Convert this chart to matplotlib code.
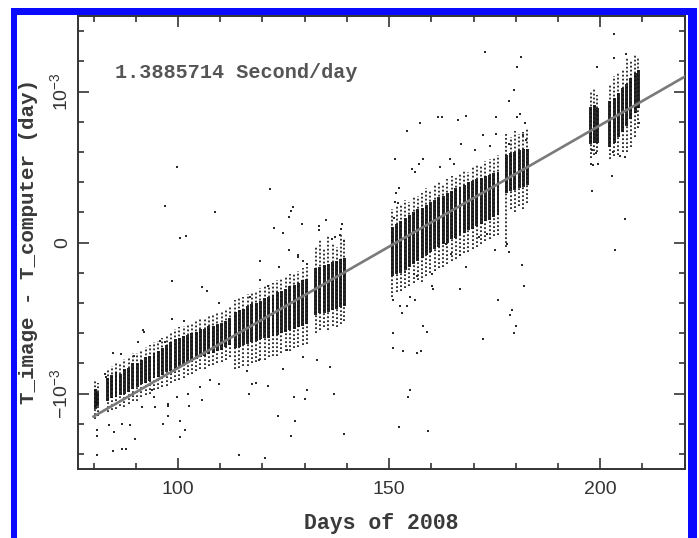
import matplotlib
matplotlib.use('Agg')
import matplotlib.pyplot as plt
import numpy as np
from matplotlib.patches import Rectangle
from matplotlib.ticker import MultipleLocator, FixedLocator


UNIT = 1e-3  # residuals below are written in units of 10^-3 day

# nightly observation streaks: day, dense core (lo, hi), sparse tail (lo, hi)
NIGHT_DAY = [
    80.4, 81.0, 83.3, 84.3, 85.3, 86.3, 87.3, 88.3, 89.3, 90.3, 91.3, 92.3,
    93.3, 94.3, 95.3, 96.3, 97.3, 98.3, 99.3, 100.3, 101.3, 102.3, 103.3,
    104.3, 105.3, 106.3, 107.3, 108.3, 109.3, 110.3, 111.3, 112.3,
    113.5, 114.5, 115.5, 116.5, 117.5, 118.5, 119.5, 120.5, 121.5, 122.5,
    123.5, 124.5, 125.5, 126.5, 127.5, 128.5, 129.5, 130.5,
    132.6, 133.6, 134.6, 135.6, 136.6, 137.6, 138.6, 139.4,
    150.8, 151.8, 152.8, 153.8, 154.8, 155.8, 156.8, 157.8, 158.8, 159.8,
    160.8, 161.8, 162.8, 163.8, 164.8, 165.8, 166.8, 167.8, 168.8, 169.8,
    170.8, 171.8, 172.8, 173.8, 174.8, 175.8,
    177.8, 178.8, 179.8, 180.8, 181.8, 182.7,
    197.8, 198.6, 199.3,
    202.3, 203.3, 204.3, 205.3, 206.3, 207.3, 208.3, 209.0,
]
CORE_LO = [
    -1.10, -1.08, -1.05, -1.03, -1.02, -1.01, -1.00, -0.99, -0.97, -0.96,
    -0.94, -0.93, -0.92, -0.90, -0.89, -0.88, -0.86, -0.85, -0.84, -0.83,
    -0.81, -0.80, -0.78, -0.77, -0.76, -0.75, -0.74, -0.73, -0.72, -0.71,
    -0.69, -0.68,
    -0.70, -0.69, -0.68, -0.67, -0.66, -0.65, -0.64, -0.63, -0.63, -0.62,
    -0.61, -0.60, -0.59, -0.58, -0.57, -0.56, -0.55, -0.54,
    -0.48, -0.47, -0.47, -0.46, -0.45, -0.44, -0.43, -0.42,
    -0.22, -0.21, -0.20, -0.18, -0.16, -0.14, -0.12, -0.10, -0.08, -0.06,
    -0.04, -0.03, -0.01, 0.00, 0.02, 0.03, 0.05, 0.06, 0.08, 0.09,
    0.11, 0.12, 0.14, 0.15, 0.17, 0.18,
    0.33, 0.34, 0.35, 0.36, 0.37, 0.38,
    0.65, 0.66, 0.66,
    0.63, 0.66, 0.70, 0.73, 0.77, 0.82, 0.86, 0.89,
]
CORE_HI = [
    -0.97, -0.99, -0.90, -0.88, -0.86, -0.87, -0.84, -0.83, -0.80, -0.80,
    -0.78, -0.76, -0.75, -0.73, -0.72, -0.70, -0.68, -0.66, -0.64, -0.63,
    -0.62, -0.61, -0.60, -0.59, -0.57, -0.57, -0.55, -0.55, -0.54, -0.53,
    -0.52, -0.50,
    -0.46, -0.45, -0.44, -0.42, -0.41, -0.40, -0.39, -0.37, -0.36, -0.35,
    -0.33, -0.32, -0.31, -0.29, -0.28, -0.27, -0.25, -0.24,
    -0.17, -0.16, -0.15, -0.14, -0.13, -0.12, -0.11, -0.10,
    0.10, 0.12, 0.14, 0.16, 0.18, 0.20, 0.22, 0.23, 0.25, 0.27,
    0.28, 0.30, 0.31, 0.33, 0.34, 0.36, 0.37, 0.38, 0.40, 0.41,
    0.42, 0.43, 0.44, 0.45, 0.46, 0.47,
    0.58, 0.59, 0.60, 0.61, 0.62, 0.62,
    0.90, 0.91, 0.89,
    0.94, 0.96, 0.99, 1.02, 1.05, 1.09, 1.12, 1.14,
]
TAIL_LO = [
    -1.17, -1.15, -1.12, -1.11, -1.10, -1.08, -1.09, -1.07, -1.05, -1.05,
    -1.02, -1.01, -1.00, -0.98, -0.97, -0.96, -0.95, -0.93, -0.92, -0.91,
    -0.90, -0.88, -0.87, -0.85, -0.84, -0.84, -0.82, -0.81, -0.80, -0.79,
    -0.78, -0.76,
    -0.84, -0.83, -0.82, -0.82, -0.80, -0.79, -0.78, -0.78, -0.76, -0.75,
    -0.75, -0.73, -0.72, -0.72, -0.70, -0.69, -0.68, -0.67,
    -0.60, -0.58, -0.56, -0.58, -0.55, -0.56, -0.54, -0.52,
    -0.36, -0.33, -0.32, -0.30, -0.29, -0.27, -0.25, -0.26, -0.22, -0.20,
    -0.19, -0.17, -0.16, -0.14, -0.12, -0.11, -0.09, -0.07, -0.06, -0.04,
    -0.03, -0.01, 0.01, 0.02, 0.04, 0.05,
    -0.03, 0.22, 0.20, 0.24, 0.22, 0.26,
    0.56, 0.58, 0.60,
    0.55, 0.57, 0.58, 0.60, 0.60, 0.63, 0.70, 0.76,
]
TAIL_HI = [
    -0.92, -0.93, -0.84, -0.82, -0.80, -0.80, -0.77, -0.76, -0.73, -0.73,
    -0.71, -0.69, -0.68, -0.66, -0.65, -0.63, -0.61, -0.59, -0.57, -0.56,
    -0.55, -0.54, -0.53, -0.52, -0.50, -0.50, -0.48, -0.48, -0.47, -0.46,
    -0.45, -0.43,
    -0.38, -0.37, -0.36, -0.34, -0.33, -0.32, -0.30, -0.29, -0.28, -0.27,
    -0.25, -0.24, -0.23, -0.21, -0.20, -0.19, -0.17, -0.16,
    -0.02, 0.02, -0.04, 0.05, 0.00, -0.03, 0.06, 0.02,
    0.22, 0.24, 0.25, 0.28, 0.27, 0.30, 0.31, 0.33, 0.36, 0.35,
    0.38, 0.40, 0.39, 0.42, 0.44, 0.43, 0.46, 0.48, 0.47, 0.50,
    0.52, 0.51, 0.54, 0.55, 0.56, 0.58,
    0.72, 0.70, 0.74, 0.72, 0.73, 0.75,
    1.00, 1.02, 0.98,
    1.05, 1.10, 1.12, 1.15, 1.22, 1.20, 1.25, 1.22,
]

# isolated points away from the nightly streaks
OUT_DAY = [
    99.8, 96.9, 100.5, 101.9, 108.8, 121.8, 122.8, 124.8, 126.3, 126.7,
    127.3, 126.4, 129.3, 128.4, 135.1, 133.3, 133.3, 138.8, 138.6, 138.3,
    137.3, 136.4, 139.3, 119.4, 123.9, 128.5, 129.5, 130.5, 119.4, 121.4,
    117.1, 117.5, 98.6, 105.6, 106.8, 109.6, 91.8, 90.6, 98.6, 101.5,
    95.7, 96.9, 86.5, 84.7, 89.6, 82.7, 82.9, 92.0,
    151.4, 151.6, 152.4, 151.4, 152.2, 151.2, 154.3, 157.3, 161.5, 162.5,
    166.4, 168.2, 175.4, 172.3, 175.4, 158.1, 157.1, 167.1, 170.4, 164.5,
    165.3, 162.1, 155.4, 156.2, 174.0,
    172.7, 181.3, 180.2, 179.5, 178.3, 178.3, 180.2, 181.0, 182.2, 181.8,
    182.4,
    203.2, 202.8, 198.0, 205.9, 203.6, 199.2, 203.3, 206.2, 199.1, 199.4,
    197.8, 209.1, 198.0, 198.2, 203.1, 204.6, 205.9,
    80.7, 80.7, 80.7, 83.6, 84.9, 86.7, 88.6, 89.8, 84.6, 86.7,
    87.6, 94.5, 96.5, 97.6, 97.7, 100.5, 101.7, 100.5, 102.6, 105.6,
    91.5, 93.8, 94.4, 109.6, 116.7, 117.6, 118.4, 121.4, 123.6, 127.4,
    127.6, 126.7, 137.0, 139.2, 114.5, 120.6, 102.4, 105.2, 107.6, 99.7,
    97.7, 130.1, 130.5, 124.9, 116.3, 119.1, 132.9, 136.0, 125.7, 129.7,
    151.0, 151.0, 153.2, 156.6, 157.5, 158.0, 159.0, 155.0, 154.4, 152.4,
    159.1, 166.8, 175.7, 179.0, 178.6, 180.1, 179.7, 172.3, 182.0, 151.0,
    152.6, 154.2, 153.0, 155.0, 156.2, 160.1, 160.4, 152.6, 153.8, 155.8,
    156.6, 160.1, 163.5, 164.7, 166.7, 168.3, 171.2, 173.2, 175.2, 181.4,
    177.9, 178.3,
]
OUT_RES = [
    0.50, 0.24, 0.03, 0.045, 0.20, 0.356, 0.095, 0.062, 0.17, 0.21,
    0.234, -0.05, 0.12, -0.08, 0.146, 0.11, 0.08, 0.124, 0.09, 0.05,
    0.035, 0.02, 0.01, -0.124, -0.159, -0.097, -0.12, -0.14, -0.25, -0.285,
    -0.36, -0.41, -0.256, -0.296, -0.318, -0.40, -0.58, -0.66, -0.505, -0.517,
    -0.65, -0.66, -0.74, -0.73, -0.75, -0.87, -0.89, -0.59,
    0.55, 0.33, 0.36, 0.27, 0.26, 0.16, 0.74, 0.79, 0.83, 0.83,
    0.81, 0.84, 0.83, 0.71, 0.72, 0.55, 0.52, 0.65, 0.61, 0.55,
    0.52, 0.50, 0.49, 0.47, 0.64,
    1.26, 1.23, 1.16, 1.01, 0.94, 0.65, 0.83, 0.85, 0.79, 0.71,
    0.68,
    1.38, 0.44, 0.34, 0.157, -0.05, 1.16, 1.22, 1.25, 0.59, 0.52,
    0.52, 0.79, 0.61, 0.51, 0.60, 0.57, 0.565,
    -1.245, -1.28, -1.41, -1.21, -1.256, -1.20, -1.21, -1.30, -1.38, -1.37,
    -1.37, -1.09, -1.20, -1.146, -1.08, -1.18, -1.24, -1.29, -1.086, -1.04,
    -1.09, -0.98, -1.02, -0.94, -1.00, -0.94, -0.93, -0.95, -1.15, -1.02,
    -1.18, -1.28, -1.00, -1.27, -1.41, -1.43, -1.00, -0.96, -0.91, -1.02,
    -1.07, -1.035, -0.98, -0.836, -0.85, -0.78, -0.78, -0.826, -0.715, -0.76,
    -0.60, -0.70, -0.72, -0.73, -0.72, -0.556, -0.594, -0.98, -1.02, -1.22,
    -1.25, -0.31, -0.38, -0.45, -0.48, -0.55, -0.60, -0.64, -0.29, -0.38,
    -0.42, -0.42, -0.47, -0.36, -0.38, -0.285, -0.31, -0.185, -0.197, -0.21,
    -0.22, -0.21, -0.01, -0.075, -0.086, -0.16, 0.035, 0.058, -0.05, -0.146,
    -0.01, -0.064,
]

# fitted clock drift
RATE_SEC_PER_DAY = 1.3885714
FIT_ZERO_DAY = 151.7
FIT_DAYS = [80.0, 220.0]

W, H = 699, 538


def main():
    plt.rcParams['mathtext.fontset'] = 'custom'
    plt.rcParams['mathtext.rm'] = 'Liberation Sans'
    plt.rcParams['mathtext.it'] = 'Liberation Sans:italic'

    fig = plt.figure(figsize=(W / 100.0, H / 100.0), dpi=100)
    fig.patch.set_facecolor('white')

    # blue frame
    blue = '#0a0aff'
    for x0, y0, x1, y1 in [(11, 8, 17, H), (11, 8, 697, 15), (688, 8, 697, H)]:
        fig.patches.append(Rectangle((x0 / W, 1 - y1 / H), (x1 - x0) / W, (y1 - y0) / H,
                                     transform=fig.transFigure, color=blue, lw=0))

    ax = fig.add_axes([78 / W, 1 - 469 / H, 607 / W, 453 / H])

    day = np.array(NIGHT_DAY)
    lo = np.array(CORE_LO) * UNIT
    hi = np.array(CORE_HI) * UNIT
    ax.vlines(day, np.array(TAIL_LO) * UNIT, np.array(TAIL_HI) * UNIT,
              color='#222222', lw=1.3, linestyles=(0, (1.0, 1.2)), zorder=2)
    ax.bar(day, hi - lo, bottom=lo, width=0.7, color='#111111', lw=0,
           alpha=0.9, zorder=3)
    ax.scatter(OUT_DAY, np.array(OUT_RES) * UNIT, s=3.5, marker='s', lw=0,
               color='#2a2a2a', zorder=3)

    slope = RATE_SEC_PER_DAY / 86400.0
    fx = np.array(FIT_DAYS)
    ax.plot(fx, slope * (fx - FIT_ZERO_DAY), color='#7a7a7a', lw=1.9, zorder=4)

    ax.set_xlim(76.3, 220.1)
    ax.set_ylim(-1.5e-3, 1.5e-3)
    ax.xaxis.set_major_locator(FixedLocator([100, 150, 200]))
    ax.xaxis.set_minor_locator(MultipleLocator(10))
    ax.yaxis.set_major_locator(FixedLocator([-1e-3, 0, 1e-3]))
    ax.yaxis.set_minor_locator(MultipleLocator(0.2e-3))
    ax.set_xticklabels(['100', '150', '200'])
    ax.set_yticklabels([r'$-10^{-3}$', '0', r'$10^{-3}$'], rotation=90, va='center')

    ax.tick_params(which='both', direction='in', top=True, right=True,
                   color='#333333', width=1.2)
    ax.tick_params(which='major', length=8)
    ax.tick_params(which='minor', length=4)
    ax.tick_params(axis='x', pad=9, labelsize=14, labelcolor='#333333')
    ax.tick_params(axis='y', pad=5, labelsize=14, labelcolor='#333333')
    for lab in ax.get_xticklabels() + ax.get_yticklabels():
        lab.set_family('Liberation Sans')
    for sp in ax.spines.values():
        sp.set_color('#333333')
        sp.set_linewidth(1.4)

    mono = dict(family='Liberation Mono', weight='bold', color='#3a3a3a')
    ax.text(0.061, 0.876, '1.3885714 Second/day', transform=ax.transAxes,
            fontsize=14.5, va='center', ha='left', **dict(mono, color='#555555'))
    fig.text(381 / W, 1 - 523 / H, 'Days of 2008', fontsize=15.5,
             ha='center', va='center', **mono)
    fig.text(29 / W, 1 - 242 / H, 'T_image - T_computer (day)', fontsize=15,
             rotation=90, ha='center', va='center', **mono)

    fig.savefig('out.png', dpi=100, facecolor='white')
    plt.close(fig)


if __name__ == '__main__':
    main()
